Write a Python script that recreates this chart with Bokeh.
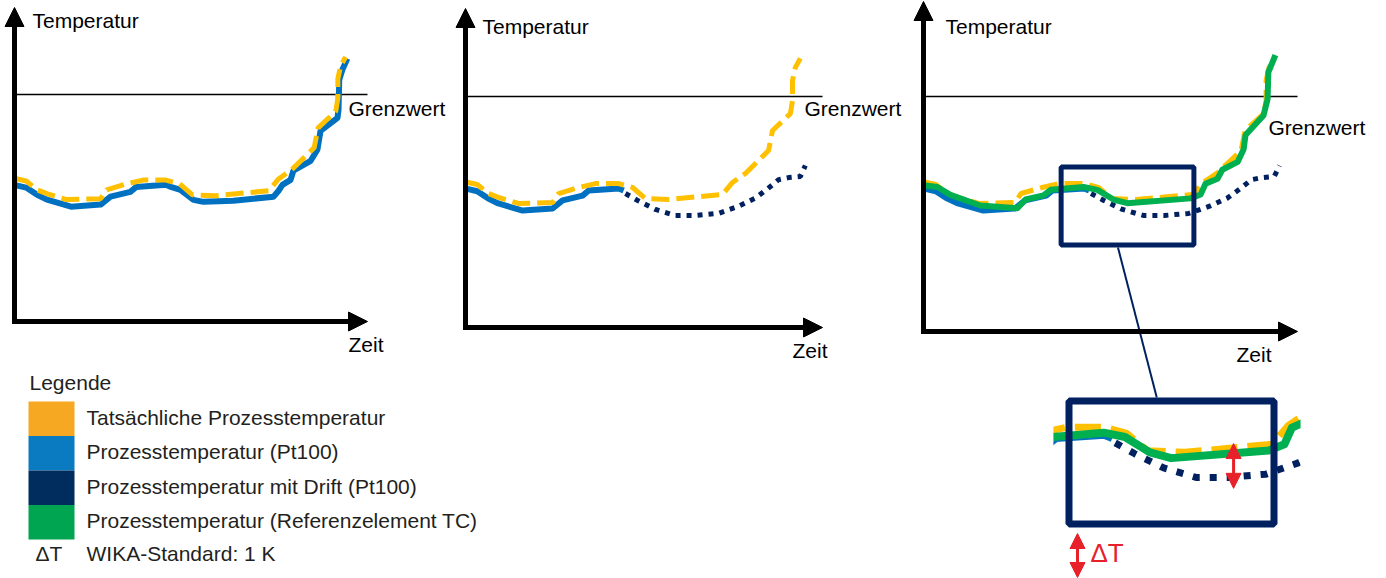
from bokeh.plotting import figure
from bokeh.models import Range1d, Arrow, NormalHead, ColumnDataSource
from bokeh.core.properties import value
from bokeh.embed import file_html
from bokeh.resources import INLINE

# ---------------- data (time: 0..100 along the Zeit axis, temperature: Grenzwert = 100) ----------------
GRENZWERT = 100

TIME_ACTUAL = [0.5, 3.3, 6.4, 9.2, 14.8, 24.4, 26.1, 31.7, 36.4, 42.9, 46.8, 50.4, 56.9, 72.0,
               74.8, 78.4, 82.1, 84.9, 86.0, 91.0, 91.6, 91.6, 92.4, 93.8]
TEMP_ACTUAL = [62.9, 61.9, 58.0, 56.3, 53.7, 54.1, 58.0, 60.6, 62.3, 62.3, 60.6, 55.8, 55.4, 57.6,
               62.8, 66.7, 72.3, 76.6, 85.3, 92.6, 98.3, 106.9, 112.6, 116.5]

TIME_PT100 = [0.5, 3.3, 6.4, 9.2, 16.0, 24.4, 27.2, 32.8, 34.5, 42.9, 44.3, 47.0, 50.7, 53.5,
              62.0, 73.4, 74.8, 75.9, 78.2, 79.0, 83.9, 85.8, 86.7, 91.5, 91.8, 92.0, 92.9, 94.3]
TEMP_PT100 = [60.0, 59.0, 55.8, 53.7, 50.6, 51.5, 55.0, 57.1, 59.3, 60.2, 59.3, 58.0, 53.6, 52.7,
              53.2, 55.0, 57.6, 60.2, 62.4, 66.4, 70.8, 75.7, 84.0, 89.7, 93.3, 106.5, 111.0, 115.8]

TIME_DRIFT = [44.8, 48.2, 53.2, 58.8, 64.4, 70.9, 76.5, 81.2, 84.6, 87.7, 90.5, 93.8, 95.2]
TEMP_DRIFT = [58.0, 55.0, 51.1, 48.5, 48.5, 49.4, 52.5, 56.0, 60.0, 64.0, 64.9, 65.4, 70.1]

TIME_TC = [0.0, 3.7, 7.2, 15.2, 25.1, 27.3, 32.1, 34.0, 42.8, 46.5, 50.8, 54.5, 71.4, 74.1,
           75.4, 78.6, 79.9, 84.0, 85.6, 86.1, 90.9, 92.0, 92.2, 93.3, 94.1]
TEMP_TC = [61.6, 60.8, 57.4, 52.8, 51.6, 55.4, 57.2, 59.6, 60.8, 59.6, 55.4, 53.8, 55.9, 57.6,
           62.2, 64.4, 68.3, 71.7, 77.2, 83.3, 91.8, 98.8, 110.5, 114.8, 117.9]

DRIFT_START = 44.5                      # Pt100 starts drifting here
ZOOM_WINDOW = (36.8, 72.3, 35.7, 69.5)  # t0, t1, T0, T1 shown magnified
INSET_VISIBLE_T = (34.1, 76.9)
DELTA_T_MARK = (65.3, 57.8, 45.5)       # time, upper, lower

LEGEND_TITLE = "Legende"
LEGEND_LABELS = ["Tatsächliche Prozesstemperatur", "Prozesstemperatur (Pt100)",
                 "Prozesstemperatur mit Drift (Pt100)", "Prozesstemperatur (Referenzelement TC)"]
LEGEND_COLORS = ["#F7A823", "#0B7BC1", "#002D5E", "#00A551"]
DELTA_SYMBOL = "ΔT"
DELTA_LABEL = "WIKA-Standard: 1 K"
AXIS_Y_LABEL = "Temperatur"
AXIS_X_LABEL = "Zeit"
LIMIT_LABEL = "Grenzwert"

# ---------------- styling / layout ----------------
YELLOW, BLUE, NAVY, GREEN, RED = "#FFC000", "#0070C0", "#002060", "#00B050", "#E8202A"
FONT = value("Liberation Sans")
W, H = 1386, 578
FS = 21                     # text size, px
FIX = 0.38                  # baseline correction, em


def by(y, fs=FS):
    return y - FIX * fs


PANELS = [
    dict(x0=14, y0=321, xlen=353, ygrenz=94, axis_y0=321, ytop=7,
         temp=(32, 28), grenz=(348, 116), zeit=(348, 352)),
    dict(x0=465, y0=327, xlen=357, ygrenz=96, axis_y0=327, ytop=8,
         temp=(482, 34), grenz=(804, 116), zeit=(792, 358)),
    dict(x0=923, y0=327, xlen=374, ygrenz=96, axis_y0=331, ytop=1,
         temp=(945, 34), grenz=(1268, 135), zeit=(1236, 362)),
]
INSET_BOX = (1068.5, 400.5, 1273.5, 523.5)  # left, top, right, bottom (page px)

p = figure(width=W, height=H, x_range=Range1d(0, W), y_range=Range1d(H, 0),
           output_backend="svg", toolbar_location=None, x_axis_type=None, y_axis_type=None,
           min_border=0)
p.outline_line_color = None
p.background_fill_color = "white"
p.border_fill_color = "white"

xr, yr = {}, {}


def make_ranges(name, px0, sx, py0, sy):
    # page x = px0 + t*sx ; page y = py0 - T*sy
    xr[name] = Range1d((0 - px0) / sx, (W - px0) / sx)
    yr[name] = Range1d((py0 - H) / sy, (py0 - 0) / sy)


for i, pn in enumerate(PANELS):
    make_ranges(f"p{i}", pn["x0"], pn["xlen"] / 100.0, pn["y0"], (pn["y0"] - pn["ygrenz"]) / GRENZWERT)

t0, t1, T0, T1 = ZOOM_WINDOW
bl, bt, br, bb = INSET_BOX
isx = (br - bl) / (t1 - t0)
isy = (bb - bt) / (T1 - T0)
make_ranges("ins", bl - t0 * isx, isx, bb + T0 * isy, isy)

p.extra_x_ranges = xr
p.extra_y_ranges = yr


def sub(ts, vs, lo, hi):
    out = [(t, v) for t, v in zip(ts, vs) if lo <= t <= hi]
    return [a for a, _ in out], [b for _, b in out]


def line(name, ts, vs, **kw):
    p.line(ts, vs, x_range_name=name, y_range_name=name, **kw)


# ---------------- panels ----------------
for i, pn in enumerate(PANELS):
    n = f"p{i}"
    line(n, [0, 100], [GRENZWERT, GRENZWERT], line_color="black", line_width=1.5)
    if i == 0:
        line(n, TIME_PT100, TEMP_PT100, line_color=BLUE, line_width=6, line_join="round")
        line(n, TIME_ACTUAL, TEMP_ACTUAL, line_color=YELLOW, line_width=5, line_dash="18 7")
    else:
        ts, vs = sub(TIME_PT100, TEMP_PT100, 0, DRIFT_START)
        line(n, ts, vs, line_color=BLUE, line_width=6, line_join="round")
        line(n, TIME_DRIFT, TEMP_DRIFT, line_color=NAVY, line_width=5, line_dash="5 6")
        line(n, TIME_ACTUAL, TEMP_ACTUAL, line_color=YELLOW, line_width=5, line_dash="18 7")
        if i == 2:
            line(n, TIME_TC, TEMP_TC, line_color=GREEN, line_width=6, line_join="round")
    x0, ay = pn["x0"], pn["axis_y0"]
    p.add_layout(Arrow(end=NormalHead(size=19, fill_color="black", line_color="black", line_width=1),
                       x_start=x0, y_start=ay + 2.5, x_end=x0, y_end=pn["ytop"],
                       line_color="black", line_width=5))
    p.add_layout(Arrow(end=NormalHead(size=19, fill_color="black", line_color="black", line_width=1),
                       x_start=x0 - 2.5, y_start=ay, x_end=x0 + pn["xlen"], y_end=ay,
                       line_color="black", line_width=5))

lab_src = ColumnDataSource(dict(
    x=[pn[k][0] for pn in PANELS for k in ("temp", "grenz", "zeit")],
    y=[by(pn[k][1]) for pn in PANELS for k in ("temp", "grenz", "zeit")],
    text=[t for _ in PANELS for t in (AXIS_Y_LABEL, LIMIT_LABEL, AXIS_X_LABEL)],
))
p.text("x", "y", "text", source=lab_src, text_font=FONT, text_font_size=f"{FS}px",
       text_baseline="alphabetic", text_color="black")

# zoom window in panel 3
p.quad(left=[t0], right=[t1], bottom=[T0], top=[T1], x_range_name="p2", y_range_name="p2",
       fill_color=None, line_color=NAVY, line_width=5)

# ---------------- inset (magnified) ----------------
lo, hi = INSET_VISIBLE_T[0] - 5, INSET_VISIBLE_T[1] + 5
ts, vs = sub(TIME_PT100, TEMP_PT100, lo, DRIFT_START)
line("ins", ts, vs, line_color=BLUE, line_width=8, line_join="round")
ts, vs = sub(TIME_DRIFT, TEMP_DRIFT, lo, hi)
line("ins", ts, vs, line_color=NAVY, line_width=7, line_dash="7 10")
ts, vs = sub(TIME_ACTUAL, TEMP_ACTUAL, lo, hi)
line("ins", ts, vs, line_color=YELLOW, line_width=7, line_dash="26 10")
ts, vs = sub(TIME_TC, TEMP_TC, lo, hi)
line("ins", ts, vs, line_color=GREEN, line_width=8, line_join="round")
p.quad(left=[INSET_VISIBLE_T[0] - 20, INSET_VISIBLE_T[1]], right=[INSET_VISIBLE_T[0], INSET_VISIBLE_T[1] + 20],
       bottom=[T0 - 2, T0 - 2], top=[T1 + 4, T1 + 4], x_range_name="ins", y_range_name="ins",
       fill_color="white", line_color=None)
p.quad(left=[t0], right=[t1], bottom=[T0], top=[T1], x_range_name="ins", y_range_name="ins",
       fill_color=None, line_color=NAVY, line_width=7)

# connector from the zoom window to the inset
CONNECT_T = 52.0
pn3 = PANELS[2]
cx0 = pn3["x0"] + CONNECT_T * pn3["xlen"] / 100.0
cy0 = pn3["y0"] - T0 * (pn3["y0"] - pn3["ygrenz"]) / GRENZWERT
cx1 = bl + (CONNECT_T - t0) * isx
p.segment(x0=[cx0], y0=[cy0 + 2.5], x1=[cx1], y1=[bt - 3.5], line_color=NAVY, line_width=2)

# delta T arrow inside the inset
dt, dhi, dlo = DELTA_T_MARK
p.add_layout(Arrow(start=NormalHead(size=15, fill_color=RED, line_color=RED, line_width=1),
                   end=NormalHead(size=15, fill_color=RED, line_color=RED, line_width=1),
                   x_start=dt, y_start=dhi, x_end=dt, y_end=dlo, x_range_name="ins", y_range_name="ins",
                   line_color=RED, line_width=3))

# delta T key below the inset
p.add_layout(Arrow(start=NormalHead(size=15, fill_color=RED, line_color=RED, line_width=1),
                   end=NormalHead(size=15, fill_color=RED, line_color=RED, line_width=1),
                   x_start=1077, y_start=533, x_end=1077, y_end=577,
                   line_color=RED, line_width=3))
p.text(x=[1090], y=[by(562, 26)], text=[DELTA_SYMBOL], text_font=FONT, text_font_size="26px",
       text_baseline="alphabetic", text_color=RED)

# ---------------- legend ----------------
ROW_TOP, ROW_H = 401, 34.5
p.text(x=[29], y=[by(390)], text=[LEGEND_TITLE], text_font=FONT, text_font_size=f"{FS}px",
       text_baseline="alphabetic", text_color="#231F20")
n = len(LEGEND_LABELS)
p.quad(left=[28] * n, right=[74] * n,
       top=[ROW_TOP + k * ROW_H for k in range(n)],
       bottom=[ROW_TOP + (k + 1) * ROW_H for k in range(n)],
       fill_color=LEGEND_COLORS, line_color=None)
p.text(x=[86] * n, y=[by(ROW_TOP + 23.5 + k * ROW_H) for k in range(n)], text=LEGEND_LABELS,
       text_font=FONT, text_font_size=f"{FS}px", text_baseline="alphabetic", text_color="#231F20")
p.text(x=[35, 86], y=[by(561), by(561)], text=[DELTA_SYMBOL, DELTA_LABEL], text_font=FONT,
       text_font_size=f"{FS}px", text_baseline="alphabetic", text_color="#231F20")

open("out.html", "w").write(file_html(p, INLINE))
